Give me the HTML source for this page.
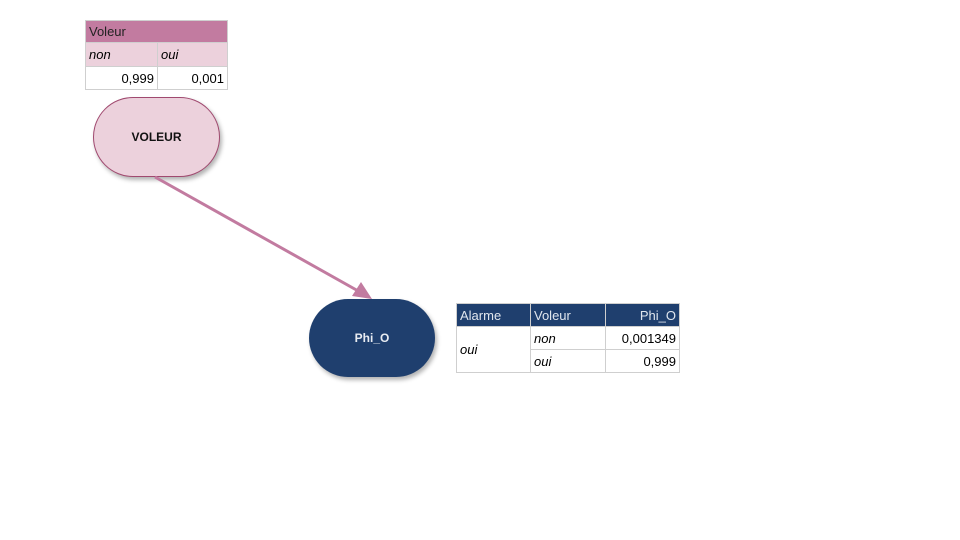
<!DOCTYPE html>
<html><head><meta charset="utf-8"><style>
body{margin:0;width:960px;height:540px;background:#fff;position:relative;overflow:hidden;font-family:"Liberation Sans","DejaVu Sans",sans-serif;}
.a{position:absolute;box-sizing:border-box;font-size:13px;line-height:1;}
table{position:absolute;border-collapse:collapse;font-size:13px;}
td{border:1px solid #cfcfcf;padding:0 3px;box-sizing:border-box;}
</style></head><body>
<table style="left:85px;top:20px;width:143px;">
<tr style="height:22px;background:#c27ba0;"><td colspan="2" style="color:#222;">Voleur</td></tr>
<tr style="height:24px;background:#ecd1dc;font-style:italic;"><td style="width:72px">non</td><td>oui</td></tr>
<tr style="height:23px;"><td style="text-align:right">0,999</td><td style="text-align:right">0,001</td></tr>
</table>
<div class="a" style="left:93px;top:97px;width:127px;height:80px;border-radius:40px;background:#ecd1dc;border:1px solid #a0496f;box-shadow:2px 3px 4px rgba(0,0,0,.3);display:flex;align-items:center;justify-content:center;font-weight:bold;font-size:12px;color:#111;">VOLEUR</div>
<svg class="a" style="left:0;top:0" width="960" height="540">
<line x1="155" y1="177" x2="360" y2="292" stroke="#c27ba0" stroke-width="3"/>
<polygon points="372,299 352,296 361,282" fill="#c27ba0"/>
</svg>
<div class="a" style="left:309px;top:299px;width:126px;height:78px;border-radius:39px;background:#1f3f6e;box-shadow:2px 3px 4px rgba(0,0,0,.3);display:flex;align-items:center;justify-content:center;font-weight:bold;font-size:12px;color:#e8ecf2;">Phi_O</div>
<table style="left:456px;top:303px;width:224px;">
<tr style="height:23px;background:#1f3f6e;color:#e0e6ee;"><td style="width:74px">Alarme</td><td style="width:75px">Voleur</td><td style="text-align:right">Phi_O</td></tr>
<tr style="height:23px;"><td rowspan="2" style="font-style:italic">oui</td><td style="font-style:italic">non</td><td style="text-align:right">0,001349</td></tr>
<tr style="height:23px;"><td style="font-style:italic">oui</td><td style="text-align:right">0,999</td></tr>
</table>
</body></html>
